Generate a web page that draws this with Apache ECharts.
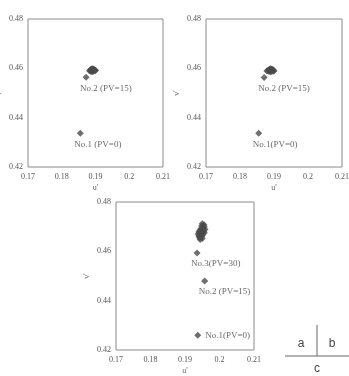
<!DOCTYPE html>
<html lang="en">
<head>
    <meta charset="UTF-8">
    <title>u'v' chromaticity</title>
    <script type="text/javascript" src="https://cdn.jsdelivr.net/npm/echarts@6/dist/echarts.min.js"></script>
    <style>
        html, body { margin: 0; padding: 0; background: #fff; }
    </style>
</head>
<body>
    <div id="main" style="width: 349px; height: 376px"></div>
    <script>
        var xTicks = ['0.17', '0.18', '0.19', '0.2', '0.21'];
        var yTicks = ['0.42', '0.44', '0.46', '0.48'];

        // chart a
        var aLabeled = [
            {name: 'No.1 (PV=0)', value: [0.1855, 0.4337]},
            {name: 'No.2 (PV=15)', value: [0.1872, 0.4564]}
        ];
        var aCluster = [[0.1882, 0.4590], [0.1885, 0.4594], [0.1888, 0.4597], [0.1891, 0.4598], [0.1894, 0.4597],
            [0.1897, 0.4594], [0.1899, 0.4590], [0.1886, 0.4587], [0.1890, 0.4586], [0.1894, 0.4588],
            [0.1889, 0.4592], [0.1893, 0.4592], [0.1900, 0.4592]];

        // chart b
        var bLabeled = [
            {name: 'No.1(PV=0)', value: [0.1855, 0.4337]},
            {name: 'No.2 (PV=15)', value: [0.1871, 0.4563]}
        ];
        var bCluster = [[0.1879, 0.4589], [0.1883, 0.4593], [0.1887, 0.4596], [0.1890, 0.4598], [0.1894, 0.4597],
            [0.1897, 0.4594], [0.1900, 0.4590], [0.1885, 0.4587], [0.1889, 0.4586], [0.1893, 0.4587],
            [0.1888, 0.4592], [0.1892, 0.4592], [0.1898, 0.4588]];

        // chart c
        var cLabeled = [
            {name: 'No.1(PV=0)', value: [0.1937, 0.4260]},
            {name: 'No.2 (PV=15)', value: [0.1957, 0.4480]},
            {name: 'No.3(PV=30)', value: [0.1935, 0.4593]}
        ];
        var cCluster = [[0.1950, 0.4712], [0.1955, 0.4708], [0.1948, 0.4703], [0.1956, 0.4700], [0.1952, 0.4695],
            [0.1946, 0.4692], [0.1958, 0.4690], [0.1950, 0.4686], [0.1943, 0.4684], [0.1955, 0.4682],
            [0.1940, 0.4678], [0.1948, 0.4676], [0.1956, 0.4675], [0.1938, 0.4670], [0.1945, 0.4668],
            [0.1952, 0.4668], [0.1940, 0.4662], [0.1948, 0.4660], [0.1942, 0.4655], [0.1950, 0.4652],
            [0.1944, 0.4648]];

        var serif = '"Liberation Serif", "DejaVu Serif", serif';
        var pointColor = '#4a4a4a';

        function xAxis(idx) {
            return {
                gridIndex: idx, type: 'value', min: 0.17, max: 0.21, interval: 0.01,
                name: "u'", nameLocation: 'middle', nameGap: 17,
                nameTextStyle: {fontFamily: serif, fontSize: 8, color: '#666'},
                axisLine: {show: false}, axisTick: {show: false}, splitLine: {show: false},
                axisLabel: {
                    fontFamily: serif, fontSize: 8, color: '#555', margin: 6,
                    formatter: function (v) { return xTicks[Math.round((v - 0.17) / 0.01)]; }
                }
            };
        }
        function yAxis(idx) {
            return {
                gridIndex: idx, type: 'value', min: 0.42, max: 0.48, interval: 0.02,
                name: "v'", nameLocation: 'middle', nameGap: 25, nameRotate: 90,
                nameTextStyle: {fontFamily: serif, fontSize: 8, color: '#666'},
                axisLine: {show: false}, axisTick: {show: false}, splitLine: {show: false},
                axisLabel: {
                    fontFamily: serif, fontSize: 8, color: '#555', margin: 5,
                    formatter: function (v) { return yTicks[Math.round((v - 0.42) / 0.02)]; }
                }
            };
        }
        function labeled(idx, data, labelOpts) {
            return {
                type: 'scatter', xAxisIndex: idx, yAxisIndex: idx, symbol: 'diamond', symbolSize: 7,
                itemStyle: {color: pointColor}, data: data.map(function (d, i) {
                    return {name: d.name, value: d.value, label: labelOpts[i]};
                }),
                label: {show: true, formatter: '{b}', fontFamily: serif, fontSize: 9, color: '#444'},
                silent: true, animation: false
            };
        }
        function cluster(idx, data) {
            return {
                type: 'scatter', xAxisIndex: idx, yAxisIndex: idx, symbol: 'diamond', symbolSize: 7,
                itemStyle: {color: pointColor}, data: data, silent: true, animation: false
            };
        }

        var below = {position: 'bottom', align: 'left', offset: [-6, 0], distance: 3};
        var right = {position: 'right', distance: 4};
        var box = {show: true, borderColor: '#8a8a8a', borderWidth: 1, containLabel: false, outerBoundsMode: 'none'};

        var myChart = echarts.init(document.getElementById('main'));
        myChart.setOption({
            backgroundColor: '#fff',
            grid: [
                Object.assign({left: 28, top: 19, width: 135, height: 148}, box),
                Object.assign({left: 206, top: 19, width: 136, height: 148}, box),
                Object.assign({left: 116, top: 202, width: 138, height: 148}, box)
            ],
            xAxis: [xAxis(0), xAxis(1), xAxis(2)],
            yAxis: [yAxis(0), yAxis(1), yAxis(2)],
            series: [
                cluster(0, aCluster),
                labeled(0, aLabeled, [below, below]),
                cluster(1, bCluster),
                labeled(1, bLabeled, [below, below]),
                cluster(2, cCluster),
                labeled(2, cLabeled, [right, below, below])
            ],
            graphic: [
                {type: 'line', shape: {x1: 285, y1: 356, x2: 349, y2: 356}, style: {stroke: '#666', lineWidth: 1}},
                {type: 'line', shape: {x1: 317, y1: 325, x2: 317, y2: 356}, style: {stroke: '#666', lineWidth: 1}},
                {type: 'text', x: 301, y: 344, style: {text: 'a', font: '12px "Liberation Sans", Arial', fill: '#444', textAlign: 'center', textVerticalAlign: 'middle'}},
                {type: 'text', x: 332, y: 344, style: {text: 'b', font: '12px "Liberation Sans", Arial', fill: '#444', textAlign: 'center', textVerticalAlign: 'middle'}},
                {type: 'text', x: 317, y: 369, style: {text: 'c', font: '12px "Liberation Sans", Arial', fill: '#444', textAlign: 'center', textVerticalAlign: 'middle'}}
            ]
        });
    </script>
</body>
</html>
